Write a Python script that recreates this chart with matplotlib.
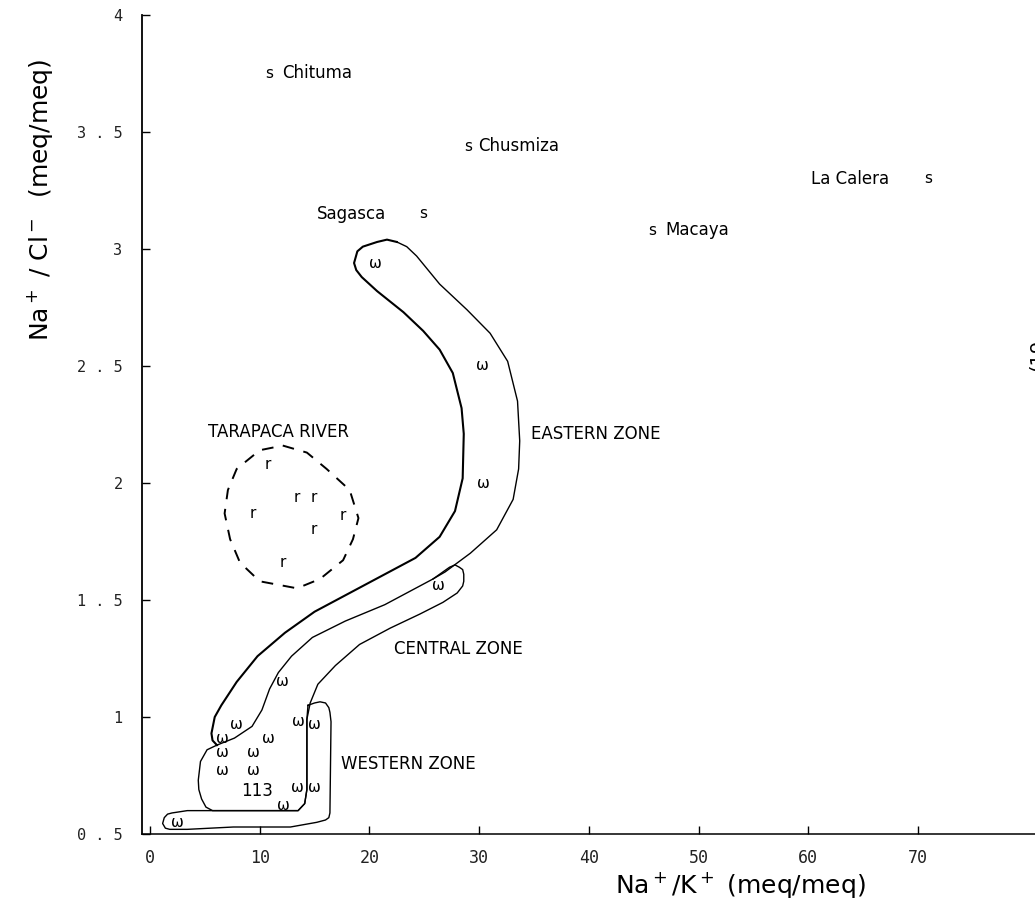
import matplotlib.pyplot as plt

# spring samples (s)
spring_names = ["Chituma", "Chusmiza", "Sagasca", "Macaya", "La Calera"]
spring_x = [10.9, 29.0, 24.9, 45.8, 70.9]
spring_y = [3.75, 3.44, 3.15, 3.08, 3.30]

# Tarapaca river samples (r)
river_x = [10.7, 13.4, 14.9, 9.4, 17.6, 14.9, 12.1]
river_y = [2.08, 1.94, 1.94, 1.87, 1.86, 1.80, 1.66]

# well samples (w)
well_x = [20.5, 30.3, 30.4, 26.3, 12.1, 7.9, 6.6, 6.6, 6.6, 10.8, 9.4, 9.4,
          13.5, 15.0, 12.2, 13.4, 15.0, 2.5]
well_y = [2.94, 2.50, 2.00, 1.56, 1.15, 0.97, 0.91, 0.85, 0.77, 0.91, 0.85, 0.77,
          0.98, 0.97, 0.62, 0.70, 0.70, 0.55]

# zone outlines
east_a_x = [22.5, 21.6, 20.7, 19.4, 18.9, 18.6, 18.8, 19.3, 20.7, 23.1, 24.9, 26.4,
            27.6, 28.4, 28.6, 28.5, 27.8, 26.4, 24.2, 21.4, 18.2, 15.0, 12.3, 9.8,
            7.9, 6.5, 5.9, 5.6, 5.7, 6.1]
east_a_y = [3.03, 3.04, 3.03, 3.01, 2.99, 2.94, 2.91, 2.88, 2.82, 2.73, 2.65, 2.57,
            2.47, 2.32, 2.21, 2.02, 1.88, 1.77, 1.68, 1.61, 1.53, 1.45, 1.36, 1.26,
            1.15, 1.05, 1.00, 0.93, 0.90, 0.88]
east_b_x = [6.1, 7.7, 9.3, 10.2, 10.9, 11.7, 12.9, 14.8, 17.8, 21.4, 24.6, 25.8,
            26.9, 29.2, 31.6, 33.1, 33.6, 33.7, 33.5, 32.6, 31.0, 28.9, 26.4, 24.3,
            23.4, 22.5]
east_b_y = [0.88, 0.91, 0.96, 1.03, 1.12, 1.19, 1.26, 1.34, 1.41, 1.48, 1.56, 1.59,
            1.62, 1.70, 1.80, 1.93, 2.06, 2.18, 2.35, 2.52, 2.64, 2.74, 2.85, 2.97,
            3.01, 3.03]

central_x = [25.8, 27.3, 27.8, 28.2, 28.5, 28.6, 28.6, 28.5, 28.0, 26.7, 24.6, 21.9,
             19.1, 16.9, 15.3, 14.6, 14.3, 14.3, 14.1, 13.5, 9.1, 5.7, 5.1, 4.7,
             4.45, 4.4, 4.6, 5.2, 6.1]
central_y = [1.59, 1.64, 1.65, 1.64, 1.63, 1.61, 1.58, 1.56, 1.53, 1.49, 1.44, 1.38,
             1.31, 1.22, 1.14, 1.06, 0.99, 0.69, 0.63, 0.60, 0.60, 0.60, 0.615, 0.65,
             0.69, 0.73, 0.81, 0.86, 0.88]

western_x = [14.4, 15.0, 15.5, 16.0, 16.3, 16.4, 16.5, 16.4, 16.3, 16.0, 15.2, 12.8,
             7.6, 3.4, 1.8, 1.4, 1.15, 1.3, 1.6, 2.0, 3.4, 5.7, 13.5, 14.1, 14.3,
             14.3, 14.4]
western_y = [1.05, 1.06, 1.065, 1.06, 1.04, 1.02, 0.98, 0.59, 0.57, 0.56, 0.55, 0.53,
             0.53, 0.52, 0.52, 0.525, 0.545, 0.57, 0.585, 0.59, 0.60, 0.60, 0.60,
             0.63, 0.69, 0.99, 1.05]

river_zone_x = [12.1, 14.3, 16.1, 18.2, 19.0, 18.5, 17.6, 15.5, 13.4, 10.0, 8.2, 7.3,
                6.8, 7.1, 7.9, 10.0, 12.1]
river_zone_y = [2.16, 2.13, 2.06, 1.97, 1.85, 1.76, 1.67, 1.59, 1.55, 1.58, 1.66, 1.76,
                1.87, 1.97, 2.06, 2.14, 2.16]

x_ticks = [0, 10, 20, 30, 40, 50, 60, 70]
y_ticks = [0.5, 1, 1.5, 2, 2.5, 3, 3.5, 4]
y_tick_labels = ["0 . 5", "1", "1 . 5", "2", "2 . 5", "3", "3 . 5", "4"]

fig = plt.figure(figsize=(10.35, 9.13), dpi=100)
ax = fig.add_axes([0.1372, 0.0865, 0.8628, 0.8971])
ax.set_xlim(-0.73, 80.67)
ax.set_ylim(0.5, 4.0)

for s in ["top", "right"]:
    ax.spines[s].set_visible(False)
ax.spines["left"].set_linewidth(1.3)
ax.spines["bottom"].set_linewidth(1.1)

ax.set_xticks(x_ticks)
ax.set_xticklabels([str(t) for t in x_ticks], family="DejaVu Sans Mono", fontsize=12, color="#222222")
ax.set_yticks(y_ticks)
ax.set_yticklabels(y_tick_labels, family="DejaVu Sans Mono", fontsize=11, color="#222222")
ax.tick_params(axis="x", direction="in", length=6, width=1, pad=11)
ax.tick_params(axis="y", direction="in", length=6, width=1, pad=14)

# zone outlines
ax.plot(east_a_x, east_a_y, color="black", lw=1.5)
ax.plot(east_b_x, east_b_y, color="black", lw=1.0)
ax.plot(central_x, central_y, color="black", lw=1.0)
ax.plot(western_x, western_y, color="black", lw=1.0)
ax.plot(river_zone_x, river_zone_y, color="black", lw=1.4, linestyle=(0, (6, 5)))

# sample symbols
for x, y in zip(well_x, well_y):
    ax.text(x, y, "ω", ha="center", va="center", fontsize=11)
for x, y in zip(river_x, river_y):
    ax.text(x, y, "r", ha="center", va="center", fontsize=11)
for x, y in zip(spring_x, spring_y):
    ax.text(x, y, "s", ha="center", va="center", fontsize=11)

offsets = {"Chituma": 9, "Chusmiza": 7, "Sagasca": -27, "Macaya": 9, "La Calera": -28}
for name, x, y in zip(spring_names, spring_x, spring_y):
    off = offsets[name]
    ax.annotate(name, (x, y), xytext=(off, 0), textcoords="offset points",
                ha="left" if off > 0 else "right", va="center", fontsize=12)

ax.text(9.75, 0.685, "113", ha="center", va="center", fontsize=12)

ax.text(34.7, 2.21, "EASTERN ZONE", ha="left", va="center", fontsize=12)
ax.text(22.2, 1.29, "CENTRAL ZONE", ha="left", va="center", fontsize=12)
ax.text(17.4, 0.80, "WESTERN ZONE", ha="left", va="center", fontsize=12)
ax.text(5.3, 2.22, "TARAPACA RIVER", ha="left", va="center", fontsize=12)

ax.text(-0.114, 0.774, r"Na$^+$ / Cl$^-$  (meq/meq)", transform=ax.transAxes,
        rotation=90, ha="center", va="center", fontsize=18)
ax.text(0.67, -0.062, r"Na$^+$/K$^+$ (meq/meq)", transform=ax.transAxes,
        ha="center", va="center", fontsize=18)

# text cut off at the right page edge in the original
fig.text(0.9932, 0.611, "(19", rotation=90, ha="left", va="center", fontsize=14)

fig.savefig("out.png", dpi=100)
